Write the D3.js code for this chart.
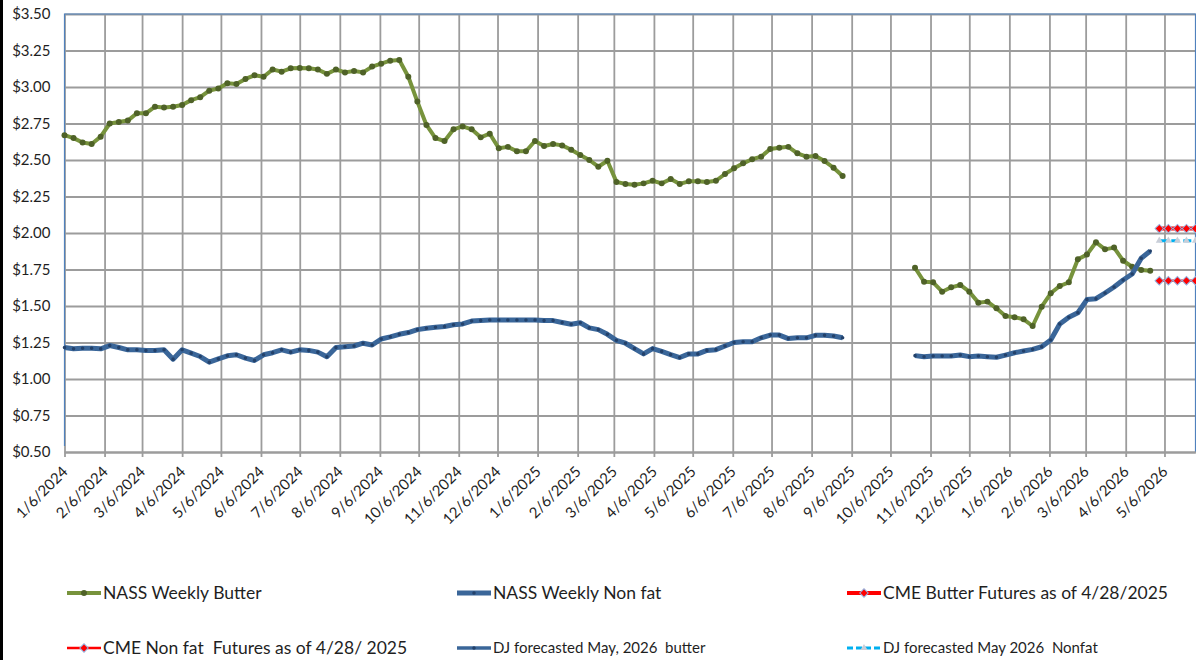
<!DOCTYPE html>
<html>
<head>
<meta charset="utf-8">
<script src="https://cdn.jsdelivr.net/npm/d3@7"></script>
<style>
  html, body { margin: 0; padding: 0; background: #fff; }
  #chart { width: 1196px; height: 660px; }
  text { font-family: Lato, "Liberation Sans", sans-serif; fill: #1f1f1f; }
</style>
</head>
<body>
<div id="chart"></div>
<script>
// --- Data ---
// weekly NASS prices, first run starts 1/6/2024, second run starts 10/25/2025
const butterStart1 = '2024-01-06';
const butter1 = [
  2.67, 2.65, 2.62, 2.61, 2.66, 2.75, 2.76, 2.77, 2.82, 2.82,
  2.865, 2.86, 2.865, 2.877, 2.91, 2.93, 2.975, 2.99, 3.025, 3.02,
  3.055, 3.08, 3.07, 3.12, 3.105, 3.128, 3.13, 3.128, 3.12, 3.09,
  3.12, 3.10, 3.11, 3.10, 3.14, 3.16, 3.18, 3.185, 3.07, 2.90,
  2.74, 2.65, 2.63, 2.71, 2.73, 2.71, 2.655, 2.68, 2.58, 2.59,
  2.56, 2.56, 2.63, 2.596, 2.61, 2.60, 2.57, 2.534, 2.50, 2.454,
  2.495, 2.35, 2.336, 2.33, 2.34, 2.358, 2.34, 2.37, 2.336, 2.354,
  2.354, 2.35, 2.358, 2.404, 2.443, 2.477, 2.505, 2.523, 2.575, 2.584,
  2.59, 2.546, 2.523, 2.527, 2.493, 2.447, 2.39
];
const nonfat1 = [
  1.216, 1.207, 1.211, 1.211, 1.207, 1.229, 1.216, 1.20, 1.20, 1.195,
  1.195, 1.20, 1.136, 1.20, 1.177, 1.154, 1.115, 1.138, 1.159, 1.166,
  1.143, 1.127, 1.166, 1.18, 1.20, 1.184, 1.20, 1.196, 1.184, 1.152,
  1.216, 1.221, 1.226, 1.245, 1.233, 1.274, 1.289, 1.306, 1.318, 1.338,
  1.348, 1.355, 1.36, 1.372, 1.377, 1.397, 1.40, 1.404, 1.404, 1.404,
  1.404, 1.404, 1.404, 1.40, 1.40, 1.387, 1.375, 1.385, 1.35, 1.338,
  1.306, 1.265, 1.245, 1.208, 1.172, 1.208, 1.189, 1.167, 1.147, 1.172,
  1.172, 1.196, 1.201, 1.226, 1.25, 1.255, 1.255, 1.282, 1.301, 1.301,
  1.277, 1.282, 1.282, 1.299, 1.299, 1.294, 1.282
];
const butterStart2 = '2025-10-25';
const butter2 = [
  1.762, 1.666, 1.662, 1.598, 1.628, 1.644, 1.598, 1.523, 1.53, 1.484,
  1.432, 1.423, 1.409, 1.363, 1.495, 1.587, 1.637, 1.662, 1.82, 1.852,
  1.937, 1.888, 1.90, 1.81, 1.769, 1.747, 1.742
];
const nonfat2 = [
  1.16, 1.153, 1.158, 1.158, 1.158, 1.164, 1.153, 1.158, 1.153, 1.149,
  1.164, 1.18, 1.192, 1.203, 1.221, 1.267, 1.377, 1.423, 1.454, 1.544,
  1.55, 1.589, 1.63, 1.678, 1.719, 1.827, 1.877
];
// futures / forecasts, weekly from 5/2/2026
const futuresStart = '2026-05-02';
const cmeButter = [2.03, 2.03, 2.03, 2.03, 2.03];
const cmeNonfat = [1.673, 1.673, 1.673, 1.673, 1.673];
const djButter = [];
const djNonfat = [1.947, 1.947, 1.947, 1.947, 1.947];

const yTicks = [0.5, 0.75, 1.0, 1.25, 1.5, 1.75, 2.0, 2.25, 2.5, 2.75, 3.0, 3.25, 3.5];
const xTickLabels = [
  '1/6/2024', '2/6/2024', '3/6/2024', '4/6/2024', '5/6/2024', '6/6/2024', '7/6/2024',
  '8/6/2024', '9/6/2024', '10/6/2024', '11/6/2024', '12/6/2024', '1/6/2025', '2/6/2025',
  '3/6/2025', '4/6/2025', '5/6/2025', '6/6/2025', '7/6/2025', '8/6/2025', '9/6/2025',
  '10/6/2025', '11/6/2025', '12/6/2025', '1/6/2026', '2/6/2026', '3/6/2026', '4/6/2026',
  '5/6/2026'
];

const legendItems = [
  { key: 'butter', label: 'NASS Weekly Butter' },
  { key: 'nonfat', label: 'NASS Weekly Non fat' },
  { key: 'cmeButter', label: 'CME Butter Futures as of 4/28/2025' },
  { key: 'cmeNonfat', label: 'CME Non fat  Futures as of 4/28/ 2025' },
  { key: 'djButter', label: 'DJ forecasted May, 2026  butter' },
  { key: 'djNonfat', label: 'DJ forecasted May 2026  Nonfat' }
];

// --- Helpers ---
const parseDate = d3.timeParse('%Y-%m-%d');
const parseTick = d3.timeParse('%m/%d/%Y');
function weekly(start, values) {
  const s = parseDate(start);
  return values.map((v, i) => ({ date: d3.timeDay.offset(s, 7 * i), value: v }));
}

const styles = {
  butter:    { stroke: '#77933C', width: 4,   marker: 'circle',   mfill: '#4F6228', mstroke: 'none', msize: 28 },
  nonfat:    { stroke: '#3A6699', width: 5,   marker: 'circle',   mfill: '#23416A', mstroke: 'none', msize: 10 },
  cmeButter: { stroke: '#FF0000', width: 4,   marker: 'diamond',  mfill: '#FF0000', mstroke: '#93AEDC', msize: 36 },
  cmeNonfat: { stroke: '#FF0000', width: 2.5, marker: 'diamond',  mfill: '#FF0000', mstroke: '#93AEDC', msize: 36 },
  djButter:  { stroke: '#3A6699', width: 3.5, marker: 'circle',   mfill: '#23416A', mstroke: 'none', msize: 10 },
  djNonfat:  { stroke: '#00B0F0', width: 3,   marker: 'triangle', mfill: '#C9CED8', mstroke: 'none', msize: 22, dash: '8,4' }
};

// --- Layout ---
const W = 1196, H = 660;
const plot = { left: 64.5, right: 1195.5, top: 14, bottom: 452 };

const svg = d3.select('#chart').append('svg')
  .attr('width', W)
  .attr('height', H);

svg.append('rect').attr('width', W).attr('height', H).attr('fill', '#fff');
svg.append('rect').attr('x', 0).attr('y', 0).attr('width', 3).attr('height', H).attr('fill', '#000');

// --- Scales ---
const x = d3.scaleTime()
  .domain([parseDate('2024-01-06'), parseDate('2026-05-30')])
  .range([plot.left, plot.right]);

const y = d3.scaleLinear()
  .domain([0.5, 3.5])
  .range([plot.bottom, plot.top]);

const xTicks = xTickLabels.map(parseTick);

// --- Gridlines ---
svg.append('g')
  .attr('transform', `translate(0,${plot.bottom})`)
  .call(d3.axisBottom(x).tickValues(xTicks).tickSize(-(plot.bottom - plot.top)).tickSizeOuter(0).tickFormat(''))
  .call(g => g.select('.domain').remove())
  .selectAll('line')
  .attr('stroke', '#9C9C9C')
  .attr('stroke-width', 1.8);

svg.append('g')
  .attr('transform', `translate(${plot.left},0)`)
  .call(d3.axisLeft(y).tickValues(yTicks).tickSize(-(plot.right - plot.left)).tickSizeOuter(0).tickFormat(''))
  .call(g => g.select('.domain').remove())
  .selectAll('line')
  .attr('stroke', '#9C9C9C')
  .attr('stroke-width', 1.8);

// plot border (blue) on top, left and right
svg.append('path')
  .attr('d', `M${plot.left},${plot.bottom - 6}V${plot.top}H${plot.right}V${plot.bottom}`)
  .attr('fill', 'none')
  .attr('stroke', '#4F81BD')
  .attr('stroke-width', 1.2);

// --- Axes ---
const xAxis = svg.append('g')
  .attr('transform', `translate(0,${plot.bottom})`)
  .call(d3.axisBottom(x).tickValues(xTicks).tickSize(5).tickSizeOuter(0)
    .tickFormat((d, i) => xTickLabels[i]));
xAxis.select('.domain').attr('stroke', '#9C9C9C').attr('stroke-width', 1.8);
xAxis.selectAll('line').attr('stroke', '#9C9C9C').attr('stroke-width', 1.8);
xAxis.selectAll('text')
  .attr('font-size', '15px')
  .attr('fill', '#1f1f1f')
  .attr('text-anchor', 'end')
  .attr('x', 0)
  .attr('y', 0)
  .attr('dy', '0.35em')
  .attr('transform', 'translate(0,17) rotate(-45)');

const yAxis = svg.append('g')
  .attr('transform', `translate(${plot.left},0)`)
  .call(d3.axisLeft(y).tickValues(yTicks).tickSize(0).tickPadding(14)
    .tickFormat(d => '$' + d3.format('.2f')(d)));
yAxis.select('.domain').remove();
yAxis.selectAll('text').attr('font-size', '15px').attr('fill', '#1f1f1f');

// --- Series ---
const line = d3.line()
  .x(d => x(d.date))
  .y(d => y(d.value));

const symbolType = { circle: d3.symbolCircle, diamond: d3.symbolSquare, triangle: d3.symbolTriangle };
const symbolRotate = { circle: 0, diamond: 45, triangle: 0 };

function drawSeries(data, st) {
  if (!data.length) return;
  svg.append('path')
    .datum(data)
    .attr('fill', 'none')
    .attr('stroke', st.stroke)
    .attr('stroke-width', st.width)
    .attr('stroke-linejoin', 'round')
    .attr('stroke-dasharray', st.dash || null)
    .attr('d', line);
  svg.append('g')
    .selectAll('path')
    .data(data)
    .enter().append('path')
    .attr('transform', d => `translate(${x(d.date)},${y(d.value)}) rotate(${symbolRotate[st.marker]})`)
    .attr('d', d3.symbol().type(symbolType[st.marker]).size(st.msize))
    .attr('fill', st.mfill)
    .attr('stroke', st.mstroke)
    .attr('stroke-width', 1);
}

drawSeries(weekly(butterStart1, butter1), styles.butter);
drawSeries(weekly(butterStart2, butter2), styles.butter);
drawSeries(weekly(butterStart1, nonfat1), styles.nonfat);
drawSeries(weekly(butterStart2, nonfat2), styles.nonfat);
drawSeries(weekly(futuresStart, cmeButter), styles.cmeButter);
drawSeries(weekly(futuresStart, cmeNonfat), styles.cmeNonfat);
drawSeries(weekly(futuresStart, djButter), styles.djButter);
drawSeries(weekly(futuresStart, djNonfat), styles.djNonfat);

// --- Legend ---
const legendCols = [67, 457, 847];
const legendRows = [593, 648];
const legend = svg.append('g');
legendItems.forEach((item, i) => {
  const st = styles[item.key];
  const lx = legendCols[i % 3];
  const ly = legendRows[Math.floor(i / 3)];
  const g = legend.append('g').attr('transform', `translate(${lx},${ly})`);
  g.append('line')
    .attr('x1', 0).attr('x2', 34)
    .attr('stroke', st.stroke)
    .attr('stroke-width', st.width)
    .attr('stroke-dasharray', st.dash ? '6,3' : null);
  g.append('path')
    .attr('transform', `translate(17,0) rotate(${symbolRotate[st.marker]})`)
    .attr('d', d3.symbol().type(symbolType[st.marker]).size(st.msize))
    .attr('fill', st.mfill)
    .attr('stroke', st.mstroke);
  g.append('text')
    .attr('x', 36)
    .attr('dy', '0.36em')
    .attr('font-size', i >= 4 ? '15px' : '17.5px')
    .style('white-space', 'pre')
    .text(item.label);
});
</script>
</body>
</html>
